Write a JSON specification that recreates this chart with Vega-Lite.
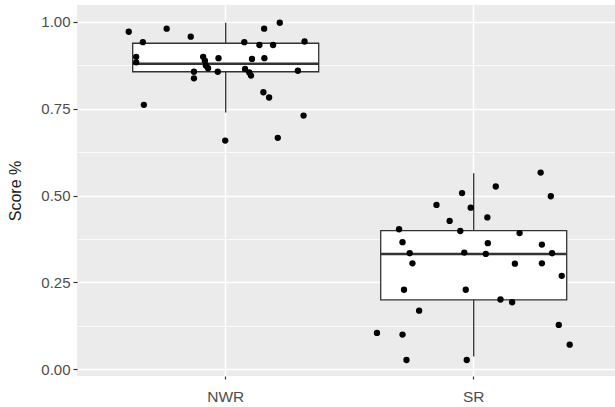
{
  "$schema": "https://vega.github.io/schema/vega-lite/v6.json",
  "width": 538,
  "height": 371,
  "autosize": {"type": "none"},
  "padding": {"left": 77, "top": 5, "right": 0, "bottom": 31},
  "background": "#FFFFFF",
  "view": {"fill": "#EBEBEB", "stroke": null},
  "config": {
    "font": "Liberation Sans",
    "axis": {"domain": false}
  },
  "datasets": {
    "points": [
      {"group": "NWR", "jitter": -0.391, "score": 0.971},
      {"group": "NWR", "jitter": -0.238, "score": 0.980},
      {"group": "NWR", "jitter": -0.334, "score": 0.941},
      {"group": "NWR", "jitter": -0.141, "score": 0.957},
      {"group": "NWR", "jitter": -0.361, "score": 0.899},
      {"group": "NWR", "jitter": -0.361, "score": 0.883},
      {"group": "NWR", "jitter": -0.091, "score": 0.899},
      {"group": "NWR", "jitter": -0.084, "score": 0.888},
      {"group": "NWR", "jitter": -0.080, "score": 0.874},
      {"group": "NWR", "jitter": -0.071, "score": 0.866},
      {"group": "NWR", "jitter": -0.128, "score": 0.856},
      {"group": "NWR", "jitter": -0.128, "score": 0.837},
      {"group": "NWR", "jitter": -0.029, "score": 0.895},
      {"group": "NWR", "jitter": -0.032, "score": 0.856},
      {"group": "NWR", "jitter": -0.330, "score": 0.761},
      {"group": "NWR", "jitter": -0.002, "score": 0.658},
      {"group": "NWR", "jitter": 0.075, "score": 0.941},
      {"group": "NWR", "jitter": 0.136, "score": 0.933},
      {"group": "NWR", "jitter": 0.191, "score": 0.933},
      {"group": "NWR", "jitter": 0.155, "score": 0.980},
      {"group": "NWR", "jitter": 0.218, "score": 0.997},
      {"group": "NWR", "jitter": 0.106, "score": 0.893},
      {"group": "NWR", "jitter": 0.156, "score": 0.895},
      {"group": "NWR", "jitter": 0.078, "score": 0.864},
      {"group": "NWR", "jitter": 0.095, "score": 0.854},
      {"group": "NWR", "jitter": 0.102, "score": 0.845},
      {"group": "NWR", "jitter": 0.318, "score": 0.943},
      {"group": "NWR", "jitter": 0.291, "score": 0.859},
      {"group": "NWR", "jitter": 0.152, "score": 0.797},
      {"group": "NWR", "jitter": 0.175, "score": 0.782},
      {"group": "NWR", "jitter": 0.314, "score": 0.730},
      {"group": "NWR", "jitter": 0.210, "score": 0.666},
      {"group": "SR", "jitter": 0.270, "score": 0.566},
      {"group": "SR", "jitter": 0.089, "score": 0.526},
      {"group": "SR", "jitter": -0.047, "score": 0.507},
      {"group": "SR", "jitter": 0.311, "score": 0.498},
      {"group": "SR", "jitter": -0.150, "score": 0.473},
      {"group": "SR", "jitter": -0.012, "score": 0.465},
      {"group": "SR", "jitter": 0.055, "score": 0.437},
      {"group": "SR", "jitter": -0.097, "score": 0.427},
      {"group": "SR", "jitter": -0.301, "score": 0.403},
      {"group": "SR", "jitter": -0.054, "score": 0.398},
      {"group": "SR", "jitter": 0.185, "score": 0.392},
      {"group": "SR", "jitter": -0.287, "score": 0.366},
      {"group": "SR", "jitter": 0.057, "score": 0.363},
      {"group": "SR", "jitter": 0.275, "score": 0.359},
      {"group": "SR", "jitter": -0.258, "score": 0.334},
      {"group": "SR", "jitter": -0.038, "score": 0.336},
      {"group": "SR", "jitter": 0.049, "score": 0.332},
      {"group": "SR", "jitter": 0.316, "score": 0.334},
      {"group": "SR", "jitter": -0.247, "score": 0.305},
      {"group": "SR", "jitter": 0.166, "score": 0.304},
      {"group": "SR", "jitter": 0.275, "score": 0.305},
      {"group": "SR", "jitter": 0.355, "score": 0.269},
      {"group": "SR", "jitter": -0.281, "score": 0.229},
      {"group": "SR", "jitter": -0.032, "score": 0.229},
      {"group": "SR", "jitter": 0.108, "score": 0.201},
      {"group": "SR", "jitter": 0.155, "score": 0.193},
      {"group": "SR", "jitter": -0.220, "score": 0.169},
      {"group": "SR", "jitter": 0.343, "score": 0.128},
      {"group": "SR", "jitter": -0.390, "score": 0.105},
      {"group": "SR", "jitter": -0.287, "score": 0.100},
      {"group": "SR", "jitter": 0.387, "score": 0.071},
      {"group": "SR", "jitter": -0.271, "score": 0.027},
      {"group": "SR", "jitter": -0.028, "score": 0.027}
    ],
    "boxes": [
      {"group": "NWR", "lower": 0.739, "q1": 0.856, "median": 0.879, "q3": 0.938, "upper": 0.997},
      {"group": "SR", "lower": 0.037, "q1": 0.200, "median": 0.332, "q3": 0.399, "upper": 0.564}
    ]
  },
  "layer": [
    {
      "data": {"name": "boxes"},
      "mark": {"type": "rule", "color": "#333333", "strokeWidth": 1.3},
      "encoding": {
        "x": {
          "field": "group", "type": "nominal", "sort": ["NWR", "SR"],
          "scale": {"type": "band", "paddingInner": 0, "paddingOuter": 0.0847, "align": 0.588},
          "axis": {
            "title": null, "labelAngle": 0, "labelFontSize": 15.5, "labelColor": "#4D4D4D",
            "labelPadding": 10, "tickColor": "#333333", "tickSize": 3, "tickWidth": 1.2,
            "grid": true, "gridColor": "#FFFFFF", "gridWidth": 1.5, "bandPosition": 0.5
          }
        },
        "y": {
          "field": "lower", "type": "quantitative",
          "scale": {"domain": [-0.019, 1.048], "nice": false, "zero": false},
          "axis": {
            "title": "Score %", "titleFontSize": 16, "titleColor": "#1A1A1A", "titleFontWeight": "normal",
            "titleX": -62, "titleBaseline": "middle",
            "values": [0, 0.125, 0.25, 0.375, 0.5, 0.625, 0.75, 0.875, 1],
            "labelExpr": "(datum.value * 4) % 1 === 0 ? format(datum.value, '.2f') : ''",
            "labelFontSize": 15, "labelColor": "#4D4D4D", "labelPadding": 3,
            "tickColor": "#333333", "tickSize": 4, "tickWidth": 1.2,
            "tickOpacity": {"condition": {"test": "(datum.value * 4) % 1 === 0", "value": 1}, "value": 0},
            "grid": true, "gridColor": "#FFFFFF",
            "gridWidth": {"condition": {"test": "(datum.value * 4) % 1 === 0", "value": 1.6}, "value": 0.8}
          }
        },
        "y2": {"field": "upper"}
      }
    },
    {
      "data": {"name": "boxes"},
      "mark": {"type": "bar", "fill": "#FFFFFF", "stroke": "#333333", "strokeWidth": 1.3, "width": 186},
      "encoding": {
        "x": {"field": "group", "type": "nominal", "sort": ["NWR", "SR"]},
        "y": {"field": "q1", "type": "quantitative", "axis": {"title": "Score %"}},
        "y2": {"field": "q3"}
      }
    },
    {
      "data": {"name": "boxes"},
      "mark": {"type": "tick", "color": "#333333", "thickness": 2.6, "size": 186, "opacity": 1},
      "encoding": {
        "x": {"field": "group", "type": "nominal", "sort": ["NWR", "SR"]},
        "y": {"field": "median", "type": "quantitative", "axis": {"title": "Score %"}}
      }
    },
    {
      "data": {"name": "points"},
      "mark": {"type": "circle", "color": "#000000", "opacity": 1, "size": 40},
      "encoding": {
        "x": {"field": "group", "type": "nominal", "sort": ["NWR", "SR"]},
        "xOffset": {"field": "jitter", "type": "quantitative", "scale": {"domain": [-0.5, 0.5], "range": [0, 248]}},
        "y": {"field": "score", "type": "quantitative", "axis": {"title": "Score %"}}
      }
    }
  ]
}
